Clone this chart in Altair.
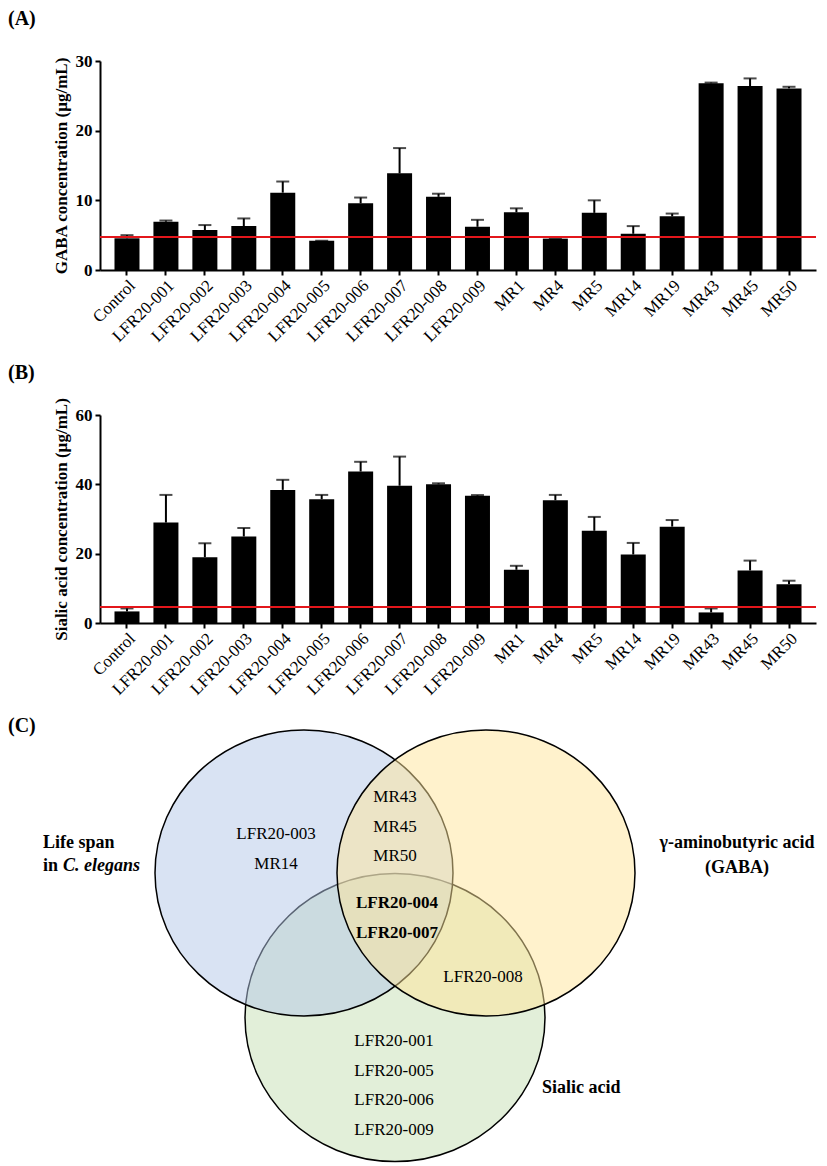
import altair as alt
import pandas as pd

# ---------------- data ----------------
samples = ["Control", "LFR20-001", "LFR20-002", "LFR20-003", "LFR20-004", "LFR20-005",
           "LFR20-006", "LFR20-007", "LFR20-008", "LFR20-009", "MR1", "MR4", "MR5",
           "MR14", "MR19", "MR43", "MR45", "MR50"]

gaba_mean = [4.55, 6.93, 5.74, 6.3, 11.1, 4.2, 9.57, 13.87, 10.5, 6.2, 8.28, 4.5, 8.2,
             5.2, 7.7, 26.8, 26.4, 26.07]
gaba_err = [0.45, 0.17, 0.71, 1.1, 1.6, 0.0, 0.83, 3.63, 0.45, 1.0, 0.57, 0.0, 1.8,
            1.1, 0.4, 0.1, 1.1, 0.23]
gaba_control_line = 4.73

sialic_mean = [3.34, 28.97, 19.0, 24.95, 38.4, 35.7, 43.7, 39.6, 40.0, 36.7, 15.35, 35.4,
               26.6, 19.76, 27.8, 3.05, 15.15, 11.2]
sialic_err = [0.86, 7.98, 4.0, 2.45, 2.9, 1.25, 2.8, 8.4, 0.3, 0.2, 1.15, 1.55, 4.0,
              3.34, 1.9, 1.15, 2.85, 1.0]
sialic_control_line = 4.6

# Venn membership
life_only = ["LFR20-003", "MR14"]
life_gaba = ["MR43", "MR45", "MR50"]
all_three = ["LFR20-004", "LFR20-007"]
gaba_sialic = ["LFR20-008"]
sialic_only = ["LFR20-001", "LFR20-005", "LFR20-006", "LFR20-009"]

# ---------------- style / layout ----------------
SERIF = "Liberation Serif"
PLOT_W = 716
LETTER_X = -92

def bar_panel(mean, err, ctrl, ymax, ystep, ytitle, letter, letter_y, height):
    df = pd.DataFrame({"sample": samples, "mean": mean,
                       "top": [m + e for m, e in zip(mean, err)]})
    xenc = alt.X("sample:N", sort=samples,
                 scale=alt.Scale(paddingInner=0.358, paddingOuter=0.372),
                 axis=alt.Axis(title=None, labelAngle=-45, labelFont=SERIF, labelFontSize=17,
                               labelColor="black", tickColor="black", tickWidth=2, tickSize=5,
                               domainColor="black", domainWidth=2, labelPadding=2))
    yscale = alt.Scale(domain=[0, ymax], nice=False)
    yaxis = alt.Axis(title=ytitle, values=list(range(0, ymax + 1, ystep)), grid=False,
                     titleFont=SERIF, titleFontSize=17, titleFontWeight="bold",
                     titleColor="black", labelFont=SERIF, labelFontSize=17,
                     labelFontWeight="bold", labelColor="black", tickColor="black",
                     tickWidth=2, tickSize=5, domainColor="black", domainWidth=2,
                     labelPadding=3, titlePadding=5)
    base = alt.Chart(df)
    bars = base.mark_bar(color="black").encode(
        x=xenc, y=alt.Y("mean:Q", scale=yscale, axis=yaxis))
    stems = base.mark_rule(color="black", strokeWidth=2).encode(
        x=xenc, y=alt.Y("mean:Q", scale=yscale), y2="top:Q")
    caps = base.mark_tick(color="black", size=13, thickness=2).encode(
        x=xenc, y=alt.Y("top:Q", scale=yscale))
    ref = alt.Chart(pd.DataFrame({"ctrl": [ctrl]})).mark_rule(
        color="#e3161b", strokeWidth=2).encode(y=alt.Y("ctrl:Q", scale=yscale))
    lab = alt.Chart(pd.DataFrame({"t": [letter]})).mark_text(
        font=SERIF, fontSize=20, fontWeight="bold", align="left", baseline="top",
        color="black").encode(text="t:N", x=alt.value(LETTER_X), y=alt.value(letter_y))
    return alt.layer(bars, stems, caps, ref, lab).properties(width=PLOT_W, height=height)


panel_a = bar_panel(gaba_mean, gaba_err, gaba_control_line, 30, 10,
                    "GABA concentration (\u00b5g/mL)", "(A)", -52, 209)
panel_b = bar_panel(sialic_mean, sialic_err, sialic_control_line, 60, 20,
                    "Sialic acid concentration (\u00b5g/mL)", "(B)", -52, 208)

# ---------------- Venn ----------------
VENN_H = 435
vx = alt.Scale(domain=[0, PLOT_W], nice=False, zero=False)
vy = alt.Scale(domain=[0, VENN_H], nice=False, zero=False, reverse=True)

ELLIPSE = "M -1 0 A 1 0.96 0 1 1 1 0 A 1 0.96 0 1 1 -1 0 Z"
# drawing order: sialic (green), life span (blue), GABA (yellow)
ellipses = [
    ("Sialic acid", 295, 289.5, 300, "#c5e0b4"),
    ("Life span", 204, 145, 298, "#b4c7e7"),
    ("GABA", 386, 145, 298, "#ffe699"),
]
venn_layers = []
for name, cx, cy, diam, col in ellipses:
    venn_layers.append(
        alt.Chart(pd.DataFrame({"set": [name], "cx": [cx], "cy": [cy]})).mark_point(
            shape=ELLIPSE, size=diam * diam, filled=True, fill=col, fillOpacity=0.5,
            stroke="black", strokeWidth=1.5, opacity=1).encode(
            x=alt.X("cx:Q", scale=vx, axis=None), y=alt.Y("cy:Q", scale=vy, axis=None)))

LINE_GAP = 29.5
regions = [
    (life_only, 176, 106, "normal"),
    (life_gaba, 295, 69, "normal"),
    (all_three, 297, 175, "bold"),
    (gaba_sialic, 383, 249, "normal"),
    (sialic_only, 294, 313, "normal"),
]
for members, ax, ay, weight in regions:
    df = pd.DataFrame({"name": members, "x": [ax] * len(members),
                       "y": [ay + i * LINE_GAP for i in range(len(members))]})
    venn_layers.append(alt.Chart(df).mark_text(
        font=SERIF, fontSize=17, fontWeight=weight, color="black", align="center",
        baseline="middle").encode(
        x=alt.X("x:Q", scale=vx, axis=None), y=alt.Y("y:Q", scale=vy, axis=None),
        text="name:N"))

set_titles = [
    ("Life span", -57, 115, "left", "normal"),
    ("in", -57, 138, "left", "normal"),
    ("C. elegans", -37, 138, "left", "italic"),
    ("\u03b3-aminobutyric acid", 637, 115, "center", "normal"),
    ("(GABA)", 637, 140, "center", "normal"),
    ("Sialic acid", 442, 360, "left", "normal"),
]
for txt, tx, ty, al, st in set_titles:
    venn_layers.append(alt.Chart(pd.DataFrame({"t": [txt], "x": [tx], "y": [ty]})).mark_text(
        font=SERIF, fontSize=18, fontWeight="bold", fontStyle=st, color="black", align=al,
        baseline="middle").encode(
        x=alt.X("x:Q", scale=vx, axis=None), y=alt.Y("y:Q", scale=vy, axis=None),
        text="t:N"))

venn_layers.append(alt.Chart(pd.DataFrame({"t": ["(C)"]})).mark_text(
    font=SERIF, fontSize=20, fontWeight="bold", align="left", baseline="top",
    color="black").encode(text="t:N", x=alt.value(LETTER_X), y=alt.value(-12)))

panel_c = alt.layer(*venn_layers).properties(width=PLOT_W, height=VENN_H)

chart = alt.vconcat(panel_a, panel_b, panel_c, spacing=18,
                    padding={"left": 0, "top": 1, "right": 0, "bottom": 0}
                    ).configure_view(stroke=None)

chart.save("out.html", embed_options={"renderer": "svg", "actions": False})
